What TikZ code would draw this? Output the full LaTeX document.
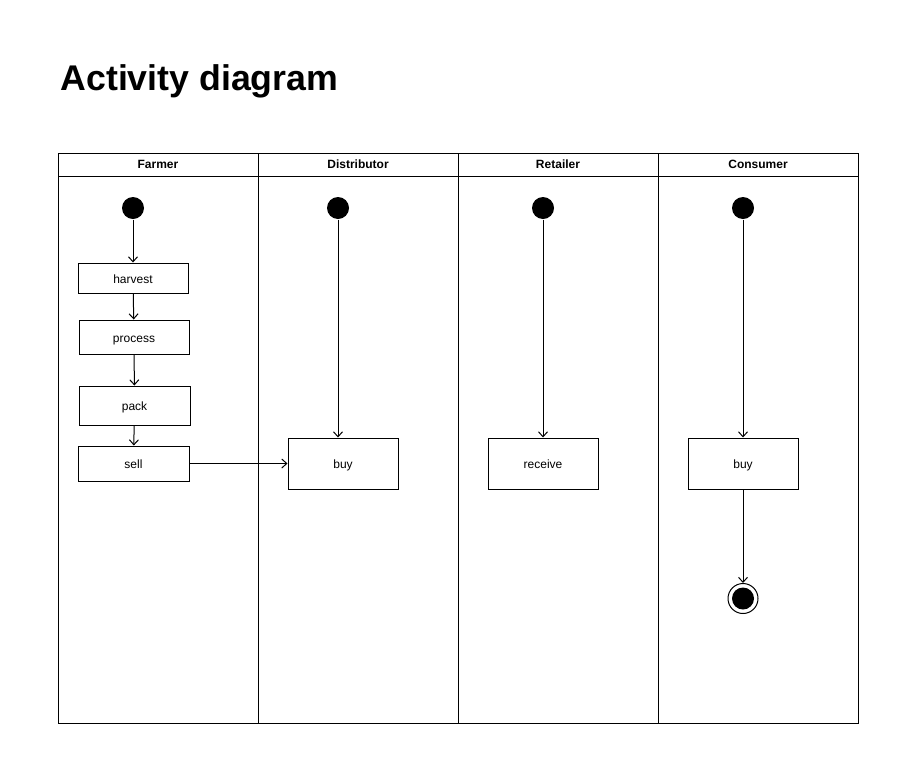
\documentclass[tikz,border=0pt]{standalone}
\usepackage{fontspec}
\setmainfont{Liberation Sans}
\usetikzlibrary{arrows.meta}
\tikzset{
  startdot/.style={circle,fill=black,minimum size=22pt,inner sep=0pt},
  enddot/.style={circle,draw,minimum size=30pt,inner sep=0pt},
  action/.style={draw,rectangle,minimum width=110pt,inner sep=0pt,text height=10.2pt,text depth=0pt,font=\fontsize{12}{14}\selectfont},
  flow/.style={-{Straight Barb[length=5pt,width=9pt]}},
}
\begin{document}
\begin{tikzpicture}[x=1pt,y=-1pt,line width=1pt]
\useasboundingbox (0,0) rectangle (909,774);
\node[anchor=base west,inner sep=0pt,font=\bfseries\fontsize{35.7}{40}\selectfont] (title) at (60,90) {Activity diagram};
% swimlanes
\draw (58,153) rectangle (858,723);
\draw (58,176) -- (858,176);
\foreach \X in {258,458,658}
  \draw (\X,153) -- (\X,723);
\foreach \X/\T in {158/Farmer,358/Distributor,558/Retailer,758/Consumer}
  \node[font=\bfseries\fontsize{12}{14}\selectfont,text height=8.6pt,text depth=2.6pt] (lane\T) at (\X,165){\T};
% farmer
\node[startdot] (farmstart) at (133,208) {};
\node[action,minimum height=30pt] (harvest) at (133,278) {harvest};
\node[action,minimum height=34pt] (process) at (134,337) {process};
\node[action,minimum height=39pt,minimum width=111pt] (pack) at (134.5,405.5) {pack};
\node[action,minimum height=35pt,minimum width=111pt] (sell) at (133.5,463.5) {sell};
% distributor
\node[startdot] (diststart) at (338,208) {};
\node[action,minimum height=51pt] (distbuy) at (343,463.5) {buy};
% retailer
\node[startdot] (retstart) at (543,208) {};
\node[action,minimum height=51pt] (receive) at (543,463.5) {receive};
% consumer
\node[startdot] (consstart) at (743,208) {};
\node[action,minimum height=51pt] (consbuy) at (743,463.5) {buy};
\node[enddot] (consend) at (743,598.5) {};
\fill (consend) circle (11);
% flows
\draw[flow] (farmstart) -- (harvest);
\draw[flow] (harvest) -- (process);
\draw[flow] (process) -- (pack);
\draw[flow] (pack) -- (sell);
\draw[flow] (sell) -- (distbuy);
\draw[flow] (diststart) -- (diststart |- distbuy.north);
\draw[flow] (retstart) -- (receive);
\draw[flow] (consstart) -- (consbuy);
\draw[flow] (consbuy) -- (consend);
\end{tikzpicture}
\end{document}
